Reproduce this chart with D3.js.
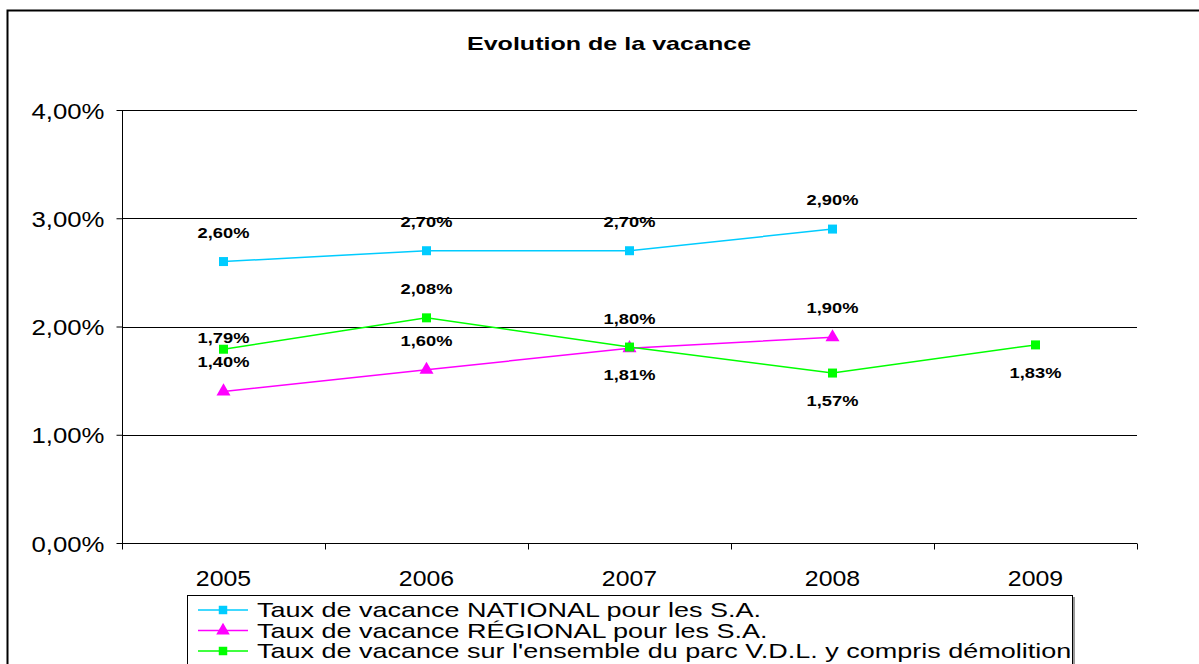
<!DOCTYPE html>
<html>
<head>
<meta charset="utf-8">
<script src="https://cdn.jsdelivr.net/npm/d3@7"></script>
<style>
  body { margin: 0; background: #fff; }
  svg { font-family: "Liberation Sans", Arial, sans-serif; }
</style>
</head>
<body>
<div id="chart"></div>
<script>
// Chart data
var years = ["2005", "2006", "2007", "2008", "2009"];
var national = [2.60, 2.70, 2.70, 2.90, null];
var regional = [1.40, 1.60, 1.80, 1.90, null];
var vdl      = [1.79, 2.08, 1.81, 1.57, 1.83];
var yTicks   = [0, 1, 2, 3, 4];

var seriesNames = [
  "Taux de vacance NATIONAL pour les S.A.",
  "Taux de vacance RÉGIONAL pour les S.A.",
  "Taux de vacance sur l'ensemble du parc V.D.L. y compris démolition"
];

// label offsets (px) from the point, negative = above
var nationalDy = [-29, -29, -29, -29, 0];
var regionalDy = [-29, -29, -29, -29, 0];
var vdlDy      = [-11, -29, 28, 28, 28];

var W = 1199, H = 664;
var margin = {left: 122, right: 62, top: 110, bottom: 121};

var svg = d3.select('#chart').append('svg')
  .attr('width', W)
  .attr('height', H);

// text in the original is rendered wide, so stretch it horizontally
function placeText(sel, x, y, sx) {
  sel.attr('x', 0).attr('y', 0)
    .attr('transform', (d, i) => {
      var px = typeof x === 'function' ? x(d, i) : x;
      var py = typeof y === 'function' ? y(d, i) : y;
      return `translate(${px}, ${py}) scale(${sx}, 1)`;
    });
}

// outer frame (runs past the window on right and bottom)
svg.append('rect')
  .attr('x', 7.5).attr('y', 10.5)
  .attr('width', W + 20).attr('height', H + 20)
  .attr('fill', 'none').attr('stroke', '#000').attr('stroke-width', 2);

var title = svg.append('text')
  .attr('text-anchor', 'middle')
  .style('font-weight', 'bold').style('font-size', '19px')
  .text('Evolution de la vacance');
placeText(title, 609, 50, 1.32);

var x = d3.scaleBand()
  .domain(years)
  .range([margin.left, W - margin.right]);
var y = d3.scaleLinear()
  .domain([0, 4])
  .range([H - margin.bottom, margin.top]);

var fmt = function(v) { return d3.format('.2f')(v).replace('.', ',') + '%'; };

// gridlines
svg.append('g').selectAll('line')
  .data(yTicks.slice(1)).enter().append('line')
  .attr('x1', margin.left).attr('x2', W - margin.right)
  .attr('y1', (d) => Math.round(y(d)) + 0.5).attr('y2', (d) => Math.round(y(d)) + 0.5)
  .attr('stroke', '#000').attr('stroke-width', 1);

// y axis
var yAxis = d3.axisLeft(y).tickValues(yTicks).tickSize(6).tickFormat(fmt);
var gy = svg.append('g')
  .attr('transform', `translate(${margin.left + 0.5}, 0)`)
  .call(yAxis);
gy.selectAll('text').style('font-size', '22px').attr('fill', '#000').attr('dy', null);
placeText(gy.selectAll('text'), -18, 8, 1.17);
gy.selectAll('line').attr('stroke', '#000');
gy.select('.domain').attr('stroke', '#000').attr('d', `M0,${y(0)}V${y(4)}`);

// x axis, ticks at band edges
var gx = svg.append('g')
  .attr('transform', `translate(0, ${Math.round(y(0)) + 0.5})`);
gx.append('line')
  .attr('x1', margin.left).attr('x2', W - margin.right)
  .attr('stroke', '#000');
var edges = years.map((d) => x(d)).concat([x.range()[1]]);
gx.selectAll('.tk').data(edges).enter().append('line')
  .attr('class', 'tk')
  .attr('x1', (d) => Math.round(d) + 0.5).attr('x2', (d) => Math.round(d) + 0.5)
  .attr('y1', 0).attr('y2', 6)
  .attr('stroke', '#000');
var xl = gx.selectAll('.lbl').data(years).enter().append('text')
  .attr('class', 'lbl')
  .attr('text-anchor', 'middle')
  .style('font-size', '22px')
  .text((d) => d);
placeText(xl, (d) => x(d) + x.bandwidth() / 2, 42, 1.13);

var cx = (i) => x(years[i]) + x.bandwidth() / 2;

function drawSeries(values, color, shape, dys) {
  var pts = values.map((v, i) => ({v: v, i: i})).filter((d) => d.v !== null);
  var line = d3.line().x((d) => cx(d.i)).y((d) => y(d.v));
  svg.append('path')
    .datum(pts)
    .attr('d', line)
    .attr('fill', 'none')
    .attr('stroke', color)
    .attr('stroke-width', 1.5);
  svg.append('g').selectAll('path')
    .data(pts).enter().append('path')
    .attr('transform', (d) => `translate(${cx(d.i)}, ${y(d.v)})`)
    .attr('d', d3.symbol().type(shape).size(shape === d3.symbolSquare ? 81 : 85))
    .attr('fill', color);
  var lbl = svg.append('g').selectAll('text')
    .data(pts).enter().append('text')
    .attr('text-anchor', 'middle')
    .style('font-weight', 'bold').style('font-size', '15px')
    .text((d) => fmt(d.v));
  placeText(lbl, (d) => cx(d.i), (d) => y(d.v) + dys[d.i] + 5, 1.22);
}

drawSeries(national, '#00CCFF', d3.symbolSquare, nationalDy);
drawSeries(regional, '#FF00FF', d3.symbolTriangle, regionalDy);
drawSeries(vdl, '#00FF00', d3.symbolSquare, vdlDy);

// legend
var colors = ['#00CCFF', '#FF00FF', '#00FF00'];
var shapes = [d3.symbolSquare, d3.symbolTriangle, d3.symbolSquare];
var legend = svg.append('g');
legend.append('rect')
  .attr('x', 187.5).attr('y', 595.5)
  .attr('width', 885).attr('height', 100)
  .attr('fill', '#fff').attr('stroke', '#000');
legend.append('line')
  .attr('x1', 1074).attr('x2', 1074).attr('y1', 597).attr('y2', H)
  .attr('stroke', '#999').attr('stroke-width', 2);
var rows = legend.selectAll('.row').data(seriesNames).enter().append('g')
  .attr('class', 'row')
  .attr('transform', (d, i) => `translate(0, ${610 + i * 20.5})`);
rows.append('line')
  .attr('x1', 198).attr('x2', 248)
  .attr('stroke', (d, i) => colors[i]).attr('stroke-width', 1.5);
rows.append('path')
  .attr('transform', 'translate(223, 0)')
  .attr('d', (d, i) => d3.symbol().type(shapes[i]).size(i === 1 ? 80 : 72)())
  .attr('fill', (d, i) => colors[i]);
var lt = rows.append('text')
  .style('font-size', '20px')
  .text((d) => d);
placeText(lt, 257, 7, 1.35);
</script>
</body>
</html>
